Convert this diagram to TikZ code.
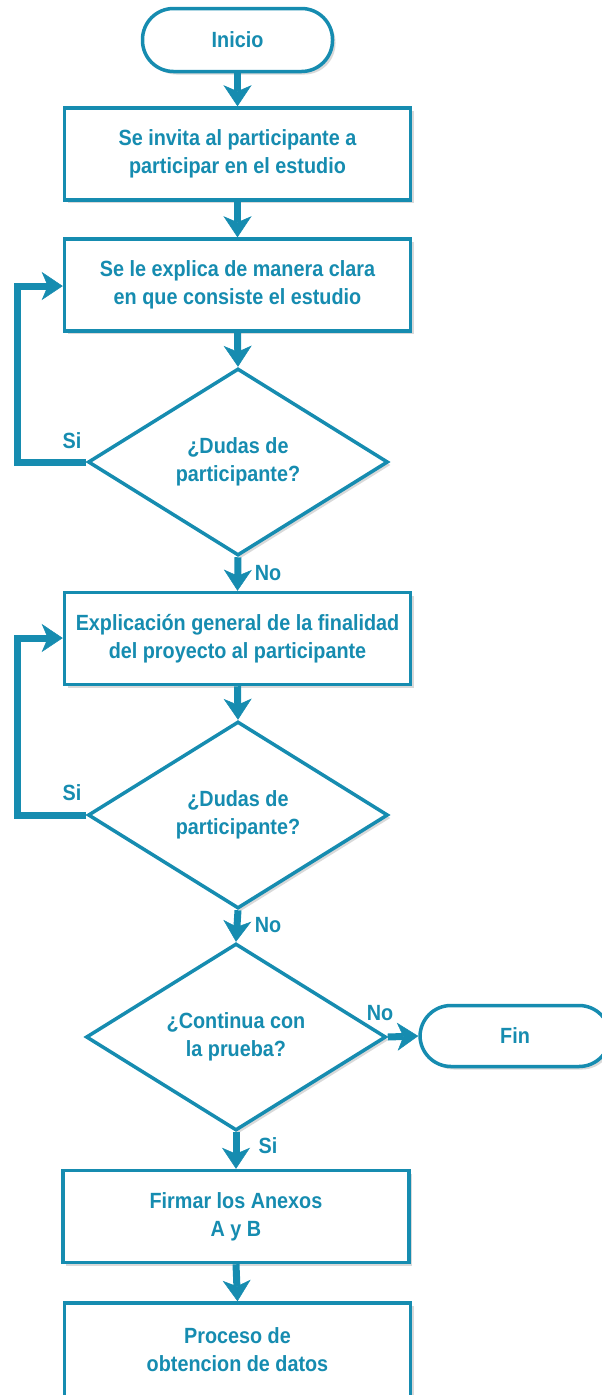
\documentclass[tikz,border=0pt]{standalone}
\usepackage{fontspec}
\newfontfamily\narfont[FakeStretch=0.9]{Liberation Sans}
\usetikzlibrary{shapes.geometric,arrows.meta,shadows}
\definecolor{teal1}{RGB}{22,140,176}
\begin{document}
\begin{tikzpicture}[x=1pt,y=-1pt,
  font=\narfont\bfseries\fontsize{22}{28}\selectfont,
  box/.style={draw=teal1,line width=3.5pt,fill=white,text=teal1,align=center,inner sep=0pt,
     drop shadow={shadow xshift=3pt,shadow yshift=-3pt,opacity=0.25,fill=black!60}},
  proc/.style={box,minimum width=346pt,minimum height=92pt},
  term/.style={box,rounded corners=31pt},
  dec/.style={box,diamond,aspect=1.6,minimum width=300pt,minimum height=187pt},
  conn/.style={draw=teal1,line width=7pt,-{Stealth[length=21pt,width=28pt,inset=6pt,line width=0.5pt]}},
  lbl/.style={text=teal1,inner sep=0pt}]
\useasboundingbox (0,0) rectangle (602,1395);
\clip (0,0) rectangle (602,1395);
\node[term,minimum width=190pt,minimum height=63pt] (ini) at (237.5,40) {Inicio};
\node[proc] (b1) at (237.5,154) {Se invita al participante a\\participar en el estudio};
\node[proc] (b2) at (237.5,285) {Se le explica de manera clara\\en que consiste el estudio};
\node[dec] (d1) at (238,462) {¿Dudas de\\participante?};
\node[proc] (b3) at (237.5,638.5) {Explicación general de la finalidad\\del proyecto al participante};
\node[dec] (d2) at (238,815) {¿Dudas de\\participante?};
\node[dec] (d3) at (236,1037) {¿Continua con\\la prueba?};
\node[term,minimum width=190pt,minimum height=61pt] (fin) at (515,1036) {Fin};
\node[proc] (b4) at (236,1216.5) {Firmar los Anexos\\A y B};
\node[proc,minimum height=94pt] (b5) at (237.5,1350) {Proceso de\\obtencion de datos};
\coordinate (l1a) at (17,462);
\coordinate (l1b) at (17,286);
\coordinate (l2a) at (17,815);
\coordinate (l2b) at (17,638);
\draw[conn] (ini.south) -- (b1.north);
\draw[conn] (b1.south) -- (b2.north);
\draw[conn] (b2.south) -- (d1.north);
\draw[conn] (d1.south) -- (b3.north);
\draw[conn] (b3.south) -- (d2.north);
\draw[conn] (d2.south) -- (d3.north);
\draw[conn] (d3.south) -- (b4.north);
\draw[conn] (b4.south) -- (b5.north);
\draw[conn] (d3.east) -- (fin.west);
\draw[conn] (d1.west) -- (l1a) -- (l1b) -- (b2.west |- l1b);
\draw[conn] (d2.west) -- (l2a) -- (l2b) -- (b3.west |- l2b);
\node[lbl] (s1) at (72,441) {Si};
\node[lbl] (n1) at (268,573) {No};
\node[lbl] (s2) at (72,793) {Si};
\node[lbl] (n2) at (268,925) {No};
\node[lbl] (n3) at (380,1013) {No};
\node[lbl] (s3) at (268,1146) {Si};
\end{tikzpicture}
\end{document}
